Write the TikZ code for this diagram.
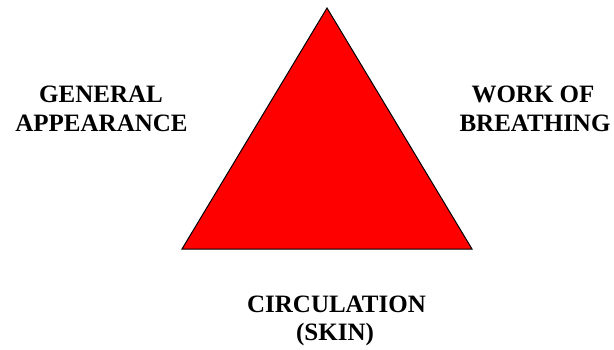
\documentclass[tikz,border=0pt]{standalone}
\usepackage{fontspec}
\setmainfont{Liberation Serif}
\begin{document}
\begin{tikzpicture}[x=1pt,y=-1pt,
  lbl/.style={anchor=base,inner sep=0pt,font=\fontsize{25}{29}\selectfont\bfseries}]
\useasboundingbox (0,0) rectangle (614,349);
\coordinate (apex) at (327,8);
\coordinate (bl) at (182,249);
\coordinate (br) at (472,249);
\draw[fill=red,line width=1pt,line join=miter] (apex) -- (br) -- (bl) -- cycle;
\node[lbl] (ga1) at (101,102) {GENERAL};
\node[lbl] (ga2) at (101.5,131) {APPEARANCE};
\node[lbl] (wb1) at (533,102) {WORK OF};
\node[lbl] (wb2) at (535,131) {BREATHING};
\node[lbl] (cs1) at (336.5,312) {CIRCULATION};
\node[lbl] (cs2) at (335,340) {(SKIN)};
\end{tikzpicture}
\end{document}
